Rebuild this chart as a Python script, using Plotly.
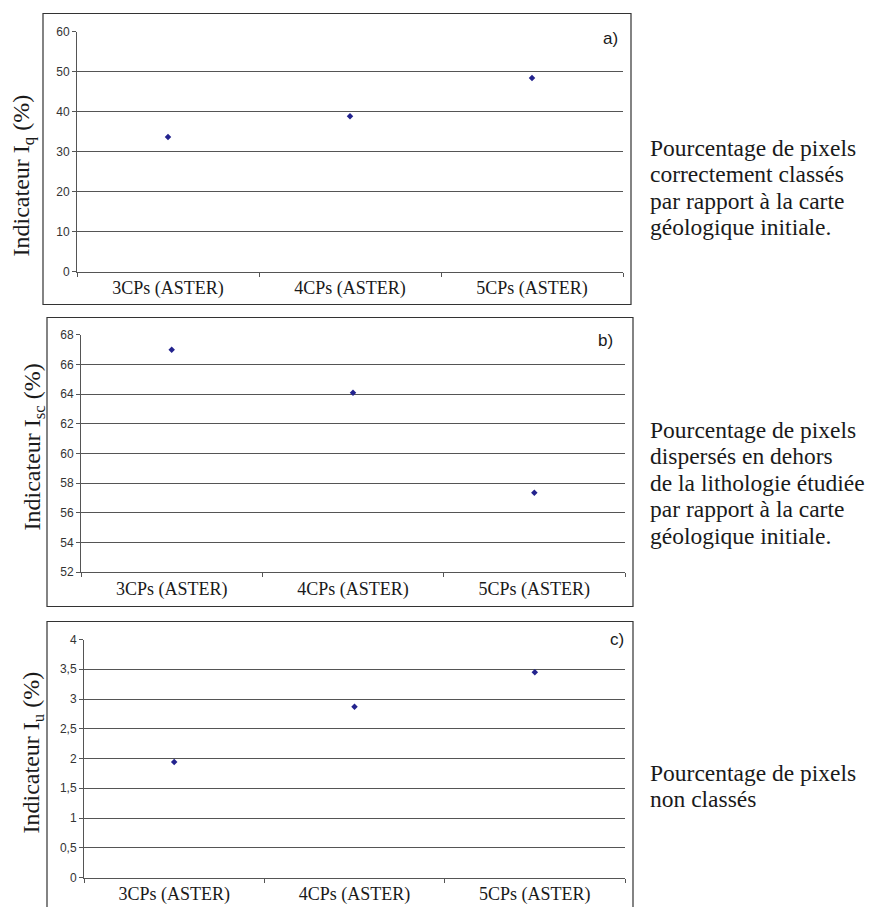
import plotly.graph_objects as go

W, H = 875, 907

categories = ["3CPs (ASTER)", "4CPs (ASTER)", "5CPs (ASTER)"]
iq_values = [33.6, 38.8, 48.4]
isc_values = [67.0, 64.1, 57.35]
iu_values = [1.94, 2.87, 3.45]

iq_ticks = [0, 10, 20, 30, 40, 50, 60]
isc_ticks = [52, 54, 56, 58, 60, 62, 64, 66, 68]
iu_ticks = [0, 0.5, 1, 1.5, 2, 2.5, 3, 3.5, 4]
iu_ticktext = ["0", "0,5", "1", "1,5", "2", "2,5", "3", "3,5", "4"]

titles = ["Indicateur I<sub>q</sub> (%)", "Indicateur I<sub>sc</sub> (%)", "Indicateur I<sub>u</sub> (%)"]
letters = ["a)", "b)", "c)"]
notes = [
    ["Pourcentage de pixels", "correctement classés", "par rapport à la carte", "géologique initiale."],
    ["Pourcentage de pixels", "dispersés en dehors", "de la lithologie étudiée", "par rapport à la carte", "géologique initiale."],
    ["Pourcentage de pixels", "non classés"],
]

# page-pixel -> paper helpers (compensating the page offset seen in the render)
OX, OY, HR = 8.0, 14.5, 893.0


def px(x):
    return (x - OX) / W


def py(y):
    return 1 - (y - OY) / HR


SERIF = "Liberation Serif, Times New Roman, serif"
SANS = "Liberation Sans, Arial, sans-serif"
MARK = "#23238e"
GRID = "#555555"
TXT = "#1a1a1a"

fig = go.Figure()

panels = [
    dict(vals=iq_values, ticks=iq_ticks, ticktext=[str(t) for t in iq_ticks],
         xdom=(77, 623), ydom=(31, 271), box=(43, 13, 631, 304),
         title_xy=(23, 175), letter_xy=(610, 38), note_x=648, note_y0=147),
    dict(vals=isc_values, ticks=isc_ticks, ticktext=[str(t) for t in isc_ticks],
         xdom=(81, 625), ydom=(334.3, 571.7), box=(47, 317, 633, 606),
         title_xy=(33, 447), letter_xy=(605, 340), note_x=648, note_y0=429),
    dict(vals=iu_values, ticks=iu_ticks, ticktext=iu_ticktext,
         xdom=(84, 625), ydom=(639, 877), box=(47, 621, 633, 920),
         title_xy=(32, 752), letter_xy=(617, 639), note_x=648, note_y0=772),
]

for i, p in enumerate(panels):
    sfx = "" if i == 0 else str(i + 1)
    fig.add_trace(go.Scatter(
        x=categories, y=p["vals"], mode="markers",
        marker=dict(symbol="diamond", size=5, color=MARK),
        xaxis="x" + sfx, yaxis="y" + sfx, showlegend=False,
    ))
    fig.layout["xaxis" + sfx] = dict(
        domain=[px(p["xdom"][0]), px(p["xdom"][1])],
        anchor="y" + sfx, type="category", range=[-0.5, 2.5],
        showline=True, linecolor=GRID, linewidth=1,
        ticks="outside", tickson="boundaries", ticklen=4, tickcolor=GRID,
        showgrid=False, zeroline=False,
        tickfont=dict(family=SERIF, size=18, color=TXT),
    )
    fig.layout["yaxis" + sfx] = dict(
        domain=[py(p["ydom"][1]), py(p["ydom"][0])],
        anchor="x" + sfx, range=[p["ticks"][0], p["ticks"][-1]],
        tickmode="array", tickvals=p["ticks"], ticktext=p["ticktext"],
        showline=True, linecolor=GRID, linewidth=1,
        ticks="outside", ticklen=4, tickcolor=GRID,
        showgrid=False, zeroline=False,
        minor=dict(tickmode="array", tickvals=p["ticks"][1:-1], showgrid=True,
                   gridcolor=GRID, gridwidth=1, ticks=""),
        tickfont=dict(family=SANS, size=12, color="#333"),
    )
    x0, y0, x1, y1 = p["box"]
    fig.add_shape(type="rect", xref="paper", yref="paper",
                  x0=px(x0), y0=py(y1), x1=px(x1), y1=py(y0),
                  line=dict(color="#333", width=1.2), fillcolor="rgba(0,0,0,0)")
    fig.add_annotation(text=titles[i], xref="paper", yref="paper",
                       x=px(p["title_xy"][0]), y=py(p["title_xy"][1]),
                       xanchor="center", yanchor="middle",
                       textangle=-90, showarrow=False,
                       font=dict(family=SERIF, size=24, color=TXT))
    fig.add_annotation(text=letters[i], xref="paper", yref="paper",
                       x=px(p["letter_xy"][0]), y=py(p["letter_xy"][1]),
                       xanchor="center", yanchor="middle",
                       showarrow=False, font=dict(family=SANS, size=17, color=TXT))
    for j, line in enumerate(notes[i]):
        fig.add_annotation(text=line, xref="paper", yref="paper",
                           x=px(p["note_x"]), y=py(p["note_y0"] + j * 26.5),
                           xanchor="left", yanchor="middle", showarrow=False,
                           font=dict(family=SERIF, size=23.5, color=TXT))

fig.update_layout(
    width=W, height=H, margin=dict(l=0, r=0, t=0, b=0),
    paper_bgcolor="white", plot_bgcolor="white",
)

fig.write_html("out.html")
